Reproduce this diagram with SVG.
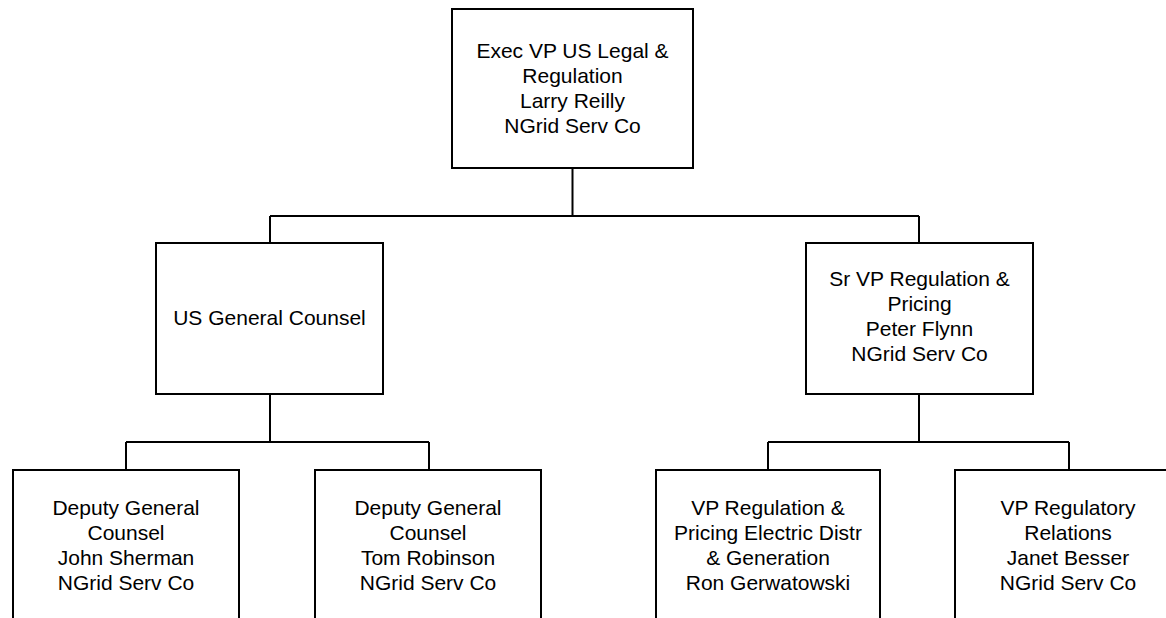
<svg xmlns="http://www.w3.org/2000/svg" width="1166" height="618" viewBox="0 0 1166 618">
<style>
.box{fill:#fff;stroke:#000;stroke-width:2}
.conn{fill:none;stroke:#000;stroke-width:2}
text{font-family:"Liberation Sans",Arial,sans-serif;font-size:21px;fill:#000;text-anchor:middle}
</style>
<rect width="1166" height="618" fill="#fff"/>
<g id="connectors">
<path class="conn" d="M572.5 168V216M270 216H919M270 216V243M919 216V243"/>
<path class="conn" d="M270 394V442M126 442H429M126 442V470M429 442V470"/>
<path class="conn" d="M919 394V442M768 442H1069M768 442V470M1069 442V470"/>
</g>
<g id="n-exec">
<rect class="box" x="452" y="9" width="241" height="159"/>
<text x="572.5" y="57.5">Exec VP US Legal &amp;</text>
<text x="572.5" y="82.7">Regulation</text>
<text x="572.5" y="107.9">Larry Reilly</text>
<text x="572.5" y="133.1">NGrid Serv Co</text>
</g>
<g id="n-gc">
<rect class="box" x="156" y="243" width="227" height="151"/>
<text x="269.5" y="325">US General Counsel</text>
</g>
<g id="n-srvp">
<rect class="box" x="806" y="243" width="227" height="151"/>
<text x="919.5" y="285.5">Sr VP Regulation &amp;</text>
<text x="919.5" y="310.8">Pricing</text>
<text x="919.5" y="336.1">Peter Flynn</text>
<text x="919.5" y="361.4">NGrid Serv Co</text>
</g>
<g id="n-dgc1">
<rect class="box" x="13" y="470" width="226" height="170"/>
<text x="126" y="514.5">Deputy General</text>
<text x="126" y="539.7">Counsel</text>
<text x="126" y="564.9">John Sherman</text>
<text x="126" y="590.1">NGrid Serv Co</text>
</g>
<g id="n-dgc2">
<rect class="box" x="315" y="470" width="226" height="170"/>
<text x="428" y="514.5">Deputy General</text>
<text x="428" y="539.7">Counsel</text>
<text x="428" y="564.9">Tom Robinson</text>
<text x="428" y="590.1">NGrid Serv Co</text>
</g>
<g id="n-vprp">
<rect class="box" x="656" y="470" width="224" height="170"/>
<text x="768" y="514.5">VP Regulation &amp;</text>
<text x="768" y="539.7">Pricing Electric Distr</text>
<text x="768" y="564.9">&amp; Generation</text>
<text x="768" y="590.1">Ron Gerwatowski</text>
</g>
<g id="n-vprr">
<rect class="box" x="955" y="470" width="226" height="170"/>
<text x="1068" y="514.5">VP Regulatory</text>
<text x="1068" y="539.7">Relations</text>
<text x="1068" y="564.9">Janet Besser</text>
<text x="1068" y="590.1">NGrid Serv Co</text>
</g>
</svg>
